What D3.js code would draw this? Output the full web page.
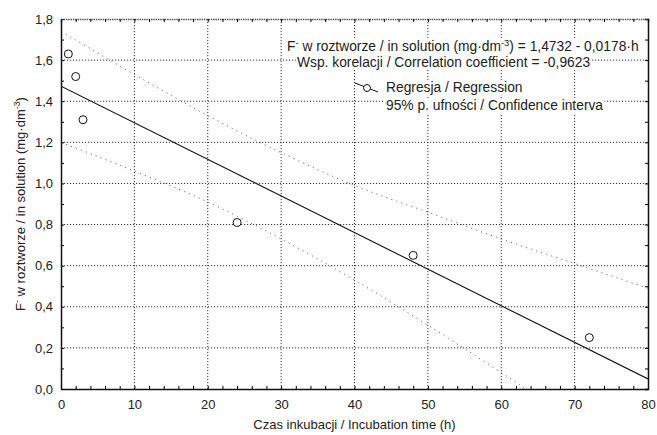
<!DOCTYPE html>
<html>
<head>
<meta charset="utf-8">
<script src="https://cdn.jsdelivr.net/npm/d3@7"></script>
<style>
  body { margin: 0; background: #fff; }
  svg { font-family: "Liberation Sans", Arial, sans-serif; }
</style>
</head>
<body>
<svg id="chart" width="657" height="435"></svg>
<script>
// measured points
const hours = [1, 2, 3, 24, 48, 72];
const fluoride = [1.63, 1.52, 1.31, 0.81, 0.65, 0.25];

// regression line read at the plot edges
const regHours = [0, 80];
const regValues = [1.473, 0.049];

// 95% band
const bandHours = [0, 10, 20, 30, 40, 50, 60, 70, 80];
const bandUpper = [1.74, 1.53, 1.33, 1.15, 0.99, 0.86, 0.73, 0.61, 0.49];
const bandLower = [1.20, 1.06, 0.91, 0.73, 0.53, 0.31, 0.08, -0.16, -0.40];

const xTicks = [0, 10, 20, 30, 40, 50, 60, 70, 80];
const yTicks = [0, 0.2, 0.4, 0.6, 0.8, 1.0, 1.2, 1.4, 1.6, 1.8];

const margin = {top: 19, right: 9, bottom: 46, left: 61};
const width = 657 - margin.left - margin.right;
const height = 435 - margin.top - margin.bottom;

const svg = d3.select('#chart');
const g = svg.append('g')
    .attr('transform', `translate(${margin.left},${margin.top})`);

const x = d3.scaleLinear().domain([0, 80]).range([0, width]);
const y = d3.scaleLinear().domain([0, 1.8]).range([height, 0]);

const comma = v => d3.format('.1f')(v).replace('.', ',');

svg.append('defs').append('clipPath')
    .attr('id', 'plot-clip')
  .append('rect')
    .attr('width', width)
    .attr('height', height);

// grid
const grid = g.append('g').attr('class', 'grid');
grid.selectAll('line.gx')
  .data(xTicks.slice(1, -1))
  .join('line')
    .attr('class', 'gx')
    .attr('x1', d => x(d)).attr('x2', d => x(d))
    .attr('y1', 0).attr('y2', height);
grid.selectAll('line.gy')
  .data(yTicks.slice(1, -1))
  .join('line')
    .attr('class', 'gy')
    .attr('x1', 0).attr('x2', width)
    .attr('y1', d => y(d)).attr('y2', d => y(d));
grid.selectAll('line')
    .attr('stroke', '#333')
    .attr('stroke-dasharray', '1.2,1.8');

// white boxes behind the annotation text
const notes = g.append('g').attr('class', 'notes');

const plot = g.append('g').attr('clip-path', 'url(#plot-clip)');

const band = (vals) => d3.line()
    .x((d, i) => x(bandHours[i]))
    .y(d => y(d))
    .curve(d3.curveMonotoneX)(vals);

plot.selectAll('.band')
  .data([bandUpper, bandLower])
  .join('path')
    .attr('class', 'band')
    .attr('d', d => band(d))
    .attr('fill', 'none')
    .attr('stroke', '#777')
    .attr('stroke-width', 1)
    .attr('stroke-dasharray', '1.3,4');

plot.append('path')
    .attr('d', d3.line()
        .x((d, i) => x(regHours[i]))
        .y(d => y(d))(regValues))
    .attr('fill', 'none')
    .attr('stroke', '#111')
    .attr('stroke-width', 1.1);

plot.selectAll('.pt')
  .data(hours)
  .join('circle')
    .attr('class', 'pt')
    .attr('cx', d => x(d))
    .attr('cy', (d, i) => y(fluoride[i]))
    .attr('r', 4)
    .attr('fill', '#fff')
    .attr('stroke', '#111')
    .attr('stroke-width', 1);

// frame + inward ticks
const axisColor = '#111';
g.append('g')
    .attr('transform', `translate(0,${height})`)
    .call(d3.axisBottom(x).tickValues(d3.range(0, 81, 2)).tickSize(-3).tickFormat(''))
    .call(a => a.select('.domain').remove());
g.append('g')
    .attr('transform', `translate(0,${height})`)
    .call(d3.axisBottom(x).tickValues(xTicks).tickSize(0).tickPadding(11).tickFormat(d3.format('d')))
    .call(a => a.select('.domain').attr('stroke', axisColor).attr('stroke-width', 1.5));
g.append('g')
    .call(d3.axisLeft(y).tickValues(d3.range(0, 19).map(d => d / 10)).tickSize(-3).tickFormat(''))
    .call(a => a.select('.domain').remove());
g.append('g')
    .call(d3.axisLeft(y).tickValues(yTicks).tickSize(0).tickPadding(8).tickFormat(comma))
    .call(a => a.select('.domain').attr('stroke', axisColor).attr('stroke-width', 1.5));
g.append('g')
    .attr('transform', `translate(${width},0)`)
    .call(d3.axisRight(y).tickValues(d3.range(0, 19).map(d => d / 10)).tickSize(-3).tickFormat(''))
    .call(a => a.select('.domain').attr('stroke', axisColor).attr('stroke-width', 1.5));
g.append('g')
    .call(d3.axisTop(x).tickValues(d3.range(0, 81, 2)).tickSize(-3).tickFormat(''))
    .call(a => a.select('.domain').attr('stroke', '#555').attr('stroke-width', 1.5).attr('stroke-dasharray', '1.5,0.8'));

g.selectAll('.tick text')
    .attr('font-size', 13)
    .attr('fill', '#222')
    .attr('font-family', '"Liberation Sans", Arial, sans-serif');

// axis titles
svg.append('text')
    .attr('x', margin.left + width / 2)
    .attr('y', 429)
    .attr('text-anchor', 'middle')
    .attr('font-size', 13)
    .attr('fill', '#222')
    .text('Czas inkubacji / Incubation time (h)');

// text with raised parts: [string, isSuperscript]
function richText(t, parts, size) {
  let raised = false;
  parts.forEach(([s, sup]) => {
    const span = t.append('tspan').text(s);
    if (sup) {
      span.attr('font-size', size * 0.68);
      if (!raised) span.attr('dy', -5);
      raised = true;
    } else if (raised) {
      span.attr('dy', 5);
      raised = false;
    }
  });
  return t;
}

richText(svg.append('text')
    .attr('transform', `translate(25,${margin.top + height / 2}) rotate(-90)`)
    .attr('text-anchor', 'middle')
    .attr('font-size', 13)
    .attr('fill', '#222'),
  [['F'], ['-', true], [' w roztworze / in solution (mg·dm'], ['-3', true], [')']], 13);

// annotation lines, each on a white box
const noteSize = 13.8;
function noteLine(px, py, parts) {
  const t = richText(notes.append('text')
      .attr('x', px - margin.left)
      .attr('y', py - margin.top)
      .attr('font-size', noteSize)
      .attr('fill', '#222'), parts, noteSize);
  const b = t.node().getBBox();
  notes.insert('rect', 'text')
      .attr('x', b.x - 1).attr('y', b.y)
      .attr('width', b.width + 2).attr('height', b.height)
      .attr('fill', '#fff');
  return t;
}

noteLine(287, 51, [['F'], ['-', true], [' w roztworze / in solution (mg·dm'], ['-3', true], [') = 1,4732 - 0,0178·h']]);
noteLine(297, 67, [['Wsp. korelacji / Correlation coefficient = -0,9623']]);
noteLine(386, 92, [['Regresja / Regression']]);
noteLine(386, 110, [['95% p. ufności / Confidence interva']]);

// legend symbol
const sym = g.append('g').attr('transform', `translate(${367 - margin.left},${88 - margin.top})`);
sym.append('line')
    .attr('x1', -12).attr('y1', -5).attr('x2', 11).attr('y2', 4)
    .attr('stroke', '#111');
sym.append('circle')
    .attr('r', 3.5)
    .attr('fill', '#fff')
    .attr('stroke', '#111');
</script>
</body>
</html>
